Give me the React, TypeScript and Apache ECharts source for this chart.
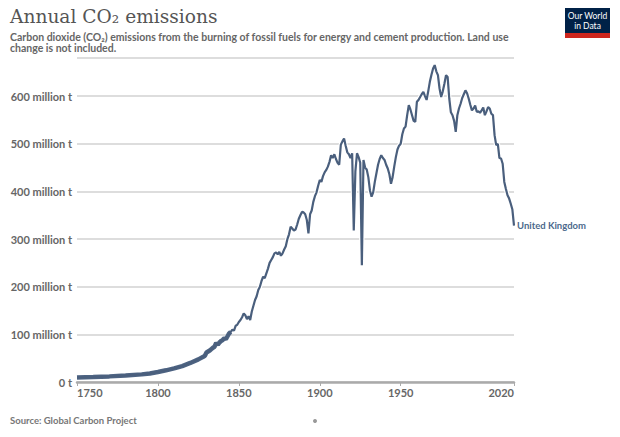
import React, { useEffect, useRef } from "react";
import * as echarts from "echarts";

const title = "Annual CO₂ emissions";
const subtitleLines = [
  "Carbon dioxide (CO₂) emissions from the burning of fossil fuels for energy and cement production. Land use",
  "change is not included.",
];
const sourceText = "Source: Global Carbon Project";
const seriesName = "United Kingdom";

const xLabelValues = [1750, 1800, 1850, 1900, 1950, 2020];
const yTickValues = [0, 100, 200, 300, 400, 500, 600];

const years = [
  1750, 1760, 1770, 1780, 1790, 1795, 1800, 1805, 1810, 1815, 1820, 1825, 1828, 1829,
  1830, 1831, 1832, 1833, 1834, 1835, 1836, 1837, 1838, 1839,
  1840, 1841, 1842, 1843, 1844, 1845, 1846, 1847, 1848, 1849,
  1850, 1851, 1852, 1853, 1854, 1855, 1856, 1857, 1858, 1859,
  1860, 1861, 1862, 1863, 1864, 1865, 1866, 1867, 1868, 1869,
  1870, 1871, 1872, 1873, 1874, 1875, 1876, 1877, 1878, 1879,
  1880, 1881, 1882, 1883, 1884, 1885, 1886, 1887, 1888, 1889,
  1890, 1891, 1892, 1893, 1894, 1895, 1896, 1897, 1898, 1899,
  1900, 1901, 1902, 1903, 1904, 1905, 1906, 1907, 1908, 1909,
  1910, 1911, 1912, 1913, 1914, 1915, 1916, 1917, 1918, 1919,
  1920, 1921, 1922, 1923, 1924, 1925, 1926, 1927, 1928, 1929,
  1930, 1931, 1932, 1933, 1934, 1935, 1936, 1937, 1938, 1939,
  1940, 1941, 1942, 1943, 1944, 1945, 1946, 1947, 1948, 1949,
  1950, 1951, 1952, 1953, 1954, 1955, 1956, 1957, 1958, 1959,
  1960, 1961, 1962, 1963, 1964, 1965, 1966, 1967, 1968, 1969,
  1970, 1971, 1972, 1973, 1974, 1975, 1976, 1977, 1978, 1979,
  1980, 1981, 1982, 1983, 1984, 1985, 1986, 1987, 1988, 1989,
  1990, 1991, 1992, 1993, 1994, 1995, 1996, 1997, 1998, 1999,
  2000, 2001, 2002, 2003, 2004, 2005, 2006, 2007, 2008, 2009,
  2010, 2011, 2012, 2013, 2014, 2015, 2016, 2017, 2018, 2019,
  2020,
];

// million tonnes CO2
const emissions = [
  9.4, 10.4, 11.8, 13.6, 16.0, 18.0, 21.0, 24.5, 28.5, 33.5, 40.0, 47.5, 53.0, 55.0,
  62, 64, 66, 69, 72, 74, 82, 78, 83, 86,
  88, 92, 90, 96, 102, 105, 110, 108, 118, 120,
  126, 130, 136, 144, 140, 132, 138, 130, 148, 160,
  172, 180, 193, 200, 212, 221, 218, 228, 238, 250,
  256, 262, 270, 272, 268, 273, 265, 270, 278, 285,
  300, 310, 326, 322, 318, 320, 330, 342, 350, 357,
  356, 352, 340, 312, 352, 360, 378, 390, 398, 412,
  424, 420, 432, 440, 445, 452, 462, 476, 470, 478,
  468, 460, 456, 498, 505, 511, 496, 482, 478, 470,
  480, 318, 442, 480, 472, 460, 245, 466, 450, 446,
  430, 402, 389, 398, 420, 438, 456, 468, 476, 470,
  466, 456, 448, 436, 416, 430, 452, 472, 488, 496,
  500, 520, 532, 536, 560, 581, 572, 560, 548, 546,
  588, 592, 598, 604, 609, 600, 592, 610, 630, 645,
  658, 665, 652, 644, 616, 598, 610, 626, 644, 640,
  595, 566, 560, 548, 525, 560, 574, 584, 596, 604,
  612, 606, 595, 582, 570, 574, 580, 567, 568, 565,
  570, 576, 560, 568, 577, 574, 563, 560, 518, 497,
  500, 470, 469, 458, 420, 405, 392, 385, 374, 362,
  328,
];

// the early, slowly rising stretch is drawn as a heavier band in the original
const heavyBandEndYear = 1845;

const LINE_COLOR = "#4a5f7d";
const FONT = "Lato, 'Noto Sans', sans-serif";

export default function App() {
  const ref = useRef<HTMLDivElement>(null);

  useEffect(() => {
    document.body.style.margin = "0";
    if (!ref.current) return;
    const chart = echarts.init(ref.current, undefined, { renderer: "svg" });
    const data = years.map((y, i) => [y, emissions[i]]);
    const earlyData = data.filter((d) => d[0] <= heavyBandEndYear);

    chart.setOption({
      animation: false,
      backgroundColor: "#ffffff",
      grid: { left: 77, right: 106, top: 58, bottom: 55, containLabel: false },
      xAxis: {
        type: "value",
        min: 1750,
        max: 2020,
        interval: 50,
        splitLine: { show: false },
        axisLine: { show: true, lineStyle: { color: "#aaaaaa", width: 2.5 } },
        axisTick: {
          show: true,
          customValues: xLabelValues,
          length: 4,
          lineStyle: { color: "#aaaaaa", width: 1 },
        },
        axisLabel: {
          customValues: xLabelValues,
          formatter: (v: number) => String(v),
          color: "#666666",
          fontSize: 11,
          fontWeight: "bold",
          fontFamily: FONT,
          margin: 5,
          alignMinLabel: "left",
          alignMaxLabel: "right",
        },
      },
      yAxis: {
        type: "value",
        min: 0,
        max: 680,
        interval: 100,
        axisLine: { show: false },
        axisTick: { show: false },
        splitLine: {
          show: true,
          lineStyle: { color: "#dddddd", width: 2.2 },
        },
        axisLabel: {
          customValues: yTickValues,
          formatter: (v: number) => (v === 0 ? "0 t" : `${v} million t`),
          color: "#666666",
          fontSize: 11,
          fontWeight: "bold",
          fontFamily: FONT,
          margin: 5,
        },
      },
      series: [
        {
          type: "line",
          data,
          showSymbol: false,
          silent: true,
          lineStyle: { color: "#ffffff", width: 4.5 },
          z: 2,
        },
        {
          type: "line",
          data: earlyData,
          showSymbol: false,
          silent: true,
          lineStyle: { color: "#4e6483", width: 4.5 },
          z: 3,
        },
        {
          type: "line",
          name: seriesName,
          data,
          showSymbol: false,
          lineStyle: { color: LINE_COLOR, width: 2.2 },
          z: 4,
          endLabel: {
            show: true,
            formatter: seriesName,
            color: "#4c6a8c",
            fontSize: 9.5,
            fontWeight: "bold",
            fontFamily: FONT,
            distance: 3,
          },
        },
      ],
      graphic: [
        {
          type: "text",
          x: 10,
          y: 7,
          style: {
            text: title,
            fontFamily: "'DejaVu Serif', serif",
            fontSize: 18.6,
            fill: "#555555",
          },
        },
        {
          type: "text",
          x: 10,
          y: 31,
          style: {
            text: subtitleLines.join("\n"),
            fontFamily: FONT,
            fontSize: 10.5,
            fontWeight: "bold",
            lineHeight: 11,
            fill: "#666666",
          },
        },
        {
          type: "text",
          x: 10,
          y: 415,
          style: {
            text: sourceText,
            fontFamily: FONT,
            fontSize: 9.5,
            fontWeight: "bold",
            fill: "#777777",
          },
        },
        {
          type: "circle",
          shape: { cx: 315, cy: 421, r: 2 },
          style: { fill: "#999999" },
        },
        {
          type: "rect",
          shape: { x: 565, y: 8, width: 45, height: 30 },
          style: { fill: "#002147" },
        },
        {
          type: "rect",
          shape: { x: 565, y: 33, width: 45, height: 5 },
          style: { fill: "#ce261e" },
        },
        {
          type: "text",
          x: 587.5,
          y: 11,
          style: {
            text: "Our World\nin Data",
            fontFamily: FONT,
            fontSize: 8.5,
            lineHeight: 10,
            fill: "#ffffff",
            align: "center",
          },
        },
      ],
    });

    return () => chart.dispose();
  }, []);

  return <div ref={ref} style={{ width: 620, height: 437 }} />;
}
